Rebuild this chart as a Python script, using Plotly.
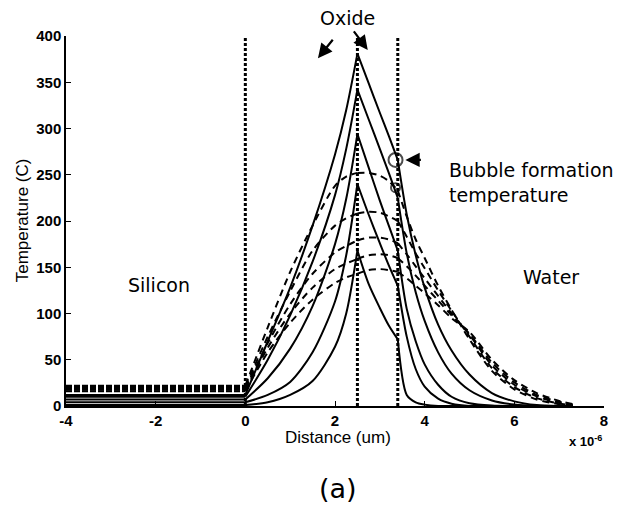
import plotly.graph_objects as go

# ---------------- data (distance in um, temperature in C) ----------------
x_um = [-4, 0, 0.5, 1.0, 1.5, 2.0, 2.25, 2.5, 2.75, 3.0, 3.2, 3.4,
        3.6, 3.8, 4.0, 4.3, 4.6, 5.0, 5.5, 6.0, 6.5, 7.0, 7.3]

# solid curves (heating)
s1 = [12, 12, 70, 128, 195, 272, 320, 381, 349, 317, 292, 266, 207, 163, 128, 88, 60, 34, 14, 5, 1, 0, 0]
s2 = [10, 10, 50, 98, 156, 228, 278, 342, 310, 278, 252, 225, 165, 123, 92, 58, 35, 17, 6, 1.5, 0, 0, 0]
s3 = [7, 7, 30, 62, 108, 175, 224, 294, 258, 222, 195, 168, 105, 70, 45, 23, 10, 3, 0.5, 0, 0, 0, 0]
s4 = [4, 4, 12, 26, 58, 113, 163, 240, 207, 176, 152, 130, 75, 40, 21, 8, 2.5, 0, 0, 0, 0, 0, 0]
s5 = [1, 1, 4, 12, 27, 64, 100, 168, 132, 106, 87, 72, 12, 4, 1.5, 0, 0, 0, 0, 0, 0, 0, 0]

# dashed curves (cooling)
d1 = [22, 22, 85, 145, 195, 238, 248, 252, 252, 249, 243, 233, 205, 180, 160, 130, 104, 72, 38, 18, 7, 2, 0.3]
d2 = [20.5, 20.5, 75, 124, 168, 195, 203, 208, 210, 209, 205, 200, 183, 165, 149, 125, 103, 75, 41, 20.5, 8.5, 2.7, 0.6]
d3 = [19, 19, 68, 110, 143, 166, 173, 179, 182, 182, 180, 176, 164, 151, 138, 119, 100, 77, 44, 23, 10.5, 3.5, 1]
d4 = [17.5, 17.5, 63, 100, 128, 148, 154, 159, 163, 164, 163, 160, 151, 141, 130, 114, 98, 78, 47, 25.5, 12, 4.5, 1.5]
d5 = [16, 16, 58, 90, 115, 133, 139, 143, 147, 148, 147, 145, 138, 130, 122, 109, 95, 80, 50, 28, 14, 5.5, 2]

solid_curves = [s1, s2, s3, s4, s5]
dashed_curves = [d1, d2, d3, d4, d5]

boundaries = [0, 2.5, 3.4]           # silicon | oxide | oxide | water
bubble_x = [3.35, 3.35]
bubble_t = [266, 236]

x_ticks = [-4, -2, 0, 2, 4, 6, 8]
y_ticks = [0, 50, 100, 150, 200, 250, 300, 350, 400]

# ---------------- figure ----------------
fig = go.Figure()

split_idx = [x_um.index(b) for b in boundaries]
segments = [(0, split_idx[0]), (split_idx[0], split_idx[1]),
            (split_idx[1], split_idx[2]), (split_idx[2], len(x_um) - 1)]


def add_curve(vals, dash, si_dash):
    for k, (a, b) in enumerate(segments):
        xs = x_um[a:b + 1]
        ys = vals[a:b + 1]
        fig.add_trace(go.Scatter(
            x=xs, y=ys, mode="lines",
            line=dict(color="black", width=2,
                      dash=(si_dash if k == 0 else dash),
                      shape=("linear" if k == 0 else "spline"),
                      smoothing=0.8),
            showlegend=False, hoverinfo="skip"))


for c in solid_curves:
    add_curve(c, "solid", "solid")
for c in dashed_curves:
    add_curve(c, "7px,5px", "6px,2px")

# material boundaries
for b in boundaries:
    fig.add_trace(go.Scatter(
        x=[b, b], y=[0, 400], mode="lines",
        line=dict(color="black", width=3, dash="3px,2px"),
        showlegend=False, hoverinfo="skip"))

# bubble formation markers
fig.add_trace(go.Scatter(
    x=bubble_x, y=bubble_t, mode="markers",
    marker=dict(symbol="circle-open", size=[14, 9],
                color="black", line=dict(width=2, color="black")),
    showlegend=False, hoverinfo="skip", cliponaxis=False))

label_font = dict(family="DejaVu Sans", size=19, color="black")


def txt(text, x, y, font, xanchor="center", yanchor="middle", **kw):
    return dict(text=text, x=x, y=y, xref="paper", yref="paper",
                xanchor=xanchor, yanchor=yanchor, showarrow=False,
                font=font, **kw)


def arrow(x, y, ax, ay):
    return dict(text="", x=x, y=y, xref="x", yref="y", ax=ax, ay=ay,
                showarrow=True, arrowhead=2, arrowsize=1.3, arrowwidth=2.2,
                arrowcolor="black")


annotations = [
    txt("Oxide", 0.524, 1.049, label_font),
    txt("Silicon", 0.173, 0.327, label_font),
    txt("Water", 0.902, 0.349, label_font),
    txt("Bubble formation<br>temperature", 0.7085, 0.604, label_font,
        xanchor="left", align="left"),
    txt("(a)", 0.5055, -0.222, dict(family="DejaVu Sans", size=27, color="black")),
    txt("Distance (um)", 0.505, -0.084,
        dict(family="Liberation Sans", size=17, color="black")),
    txt("x 10<sup>-6</sup>", 0.932, -0.095,
        dict(family="Liberation Sans", size=13, color="black", weight="bold"),
        xanchor="left"),
    txt("Temperature (C)", -0.081, 0.503,
        dict(family="Liberation Sans", size=17, color="black"), textangle=-90),
    arrow(1.62, 376, 16, -20),
    arrow(2.73, 385, -15, -20),
    arrow(3.57, 266, 17, 0),
]

tick_font = dict(family="Liberation Sans", size=15, color="black", weight="bold")

fig.update_layout(
    width=620, height=513,
    margin=dict(l=66, r=12, t=36, b=107),
    paper_bgcolor="white", plot_bgcolor="white",
    annotations=annotations,
    xaxis=dict(range=[-4, 8], tickvals=x_ticks, ticktext=[str(v) for v in x_ticks],
               showgrid=False, zeroline=False, showline=True, linecolor="black",
               linewidth=1.5, ticks="inside", ticklen=5, tickcolor="black",
               tickfont=tick_font),
    yaxis=dict(range=[0, 400], tickvals=y_ticks, ticktext=[str(v) for v in y_ticks],
               showgrid=False, zeroline=False, showline=True, linecolor="black",
               linewidth=1.5, ticks="inside", ticklen=5, tickcolor="black",
               tickfont=tick_font),
)

fig.write_html("out.html")
